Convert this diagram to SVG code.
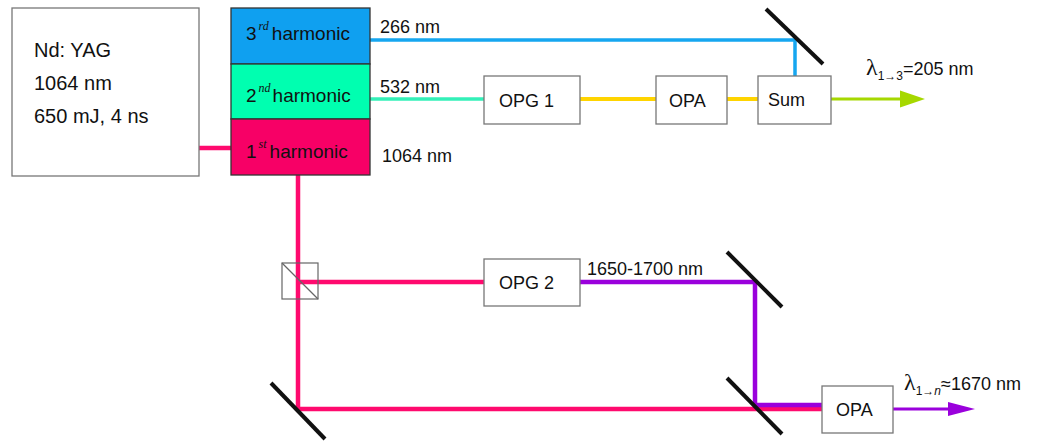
<svg xmlns="http://www.w3.org/2000/svg" width="1037" height="441" viewBox="0 0 1037 441">
<style>
.box{fill:#fff;stroke:#777;stroke-width:1.3}
.hb{stroke:#333;stroke-width:1.3}
.t{font-family:"Liberation Sans",Arial,sans-serif;font-size:18px;fill:#111}
.big{font-size:20px}
.h{font-size:19px}
.sup{font-family:"Liberation Serif","Times New Roman",serif;font-style:italic;font-size:12px}
.sub{font-family:"Liberation Sans",Arial,sans-serif;font-size:12px}
.lam{font-family:"Liberation Serif","Times New Roman",serif;font-size:24px}
.mir{stroke:#111;stroke-width:4;stroke-linecap:butt}
.bl{stroke:#16a6f0;stroke-width:3.5;fill:none}
.tl{stroke:#33f0b8;stroke-width:3.5;fill:none}
.yl{stroke:#ffd400;stroke-width:4;fill:none}
.pk{stroke:#ff0a6e;stroke-width:4.5;fill:none}
.pu{stroke:#9a00dc;fill:none}
</style>
<rect width="1037" height="441" fill="#fff"/>
<g id="connectors">
  <line class="pk" x1="199" y1="148" x2="231" y2="148"/>
  <polyline class="bl" points="370,40 795,40 795,76"/>
  <line class="tl" x1="370" y1="99" x2="484" y2="99"/>
  <line class="yl" x1="580" y1="99" x2="656" y2="99"/>
  <line class="yl" x1="727" y1="99" x2="758" y2="99"/>
  <line stroke="#a6d800" stroke-width="3" x1="831" y1="99" x2="903" y2="99"/>
  <polygon fill="#a6d800" points="900,90.5 925,99 900,107.5"/>
  <polyline class="pk" points="298,175 298,409 822,409"/>
  <line class="pk" x1="298" y1="282" x2="484" y2="282"/>
  <polyline class="pu" stroke-width="4.5" points="580,282 755,282 755,405 822,405"/>
  <line class="pu" stroke-width="3" x1="893" y1="409" x2="950" y2="409"/>
  <polygon fill="#9a00dc" points="948,402 975,409 948,416"/>
</g>
<g id="mirrors">
  <line class="mir" x1="766" y1="9" x2="823" y2="64"/>
  <line class="mir" x1="727" y1="252" x2="782" y2="307"/>
  <line class="mir" x1="271" y1="383" x2="325" y2="439"/>
  <line class="mir" x1="727" y1="378" x2="782" y2="434"/>
</g>
<g id="beamsplitter">
  <rect x="282" y="263" width="36" height="36" fill="none" stroke="#666" stroke-width="1.2"/>
  <line x1="282" y1="263" x2="318" y2="299" stroke="#666" stroke-width="1.2"/>
</g>
<g id="ndyag">
  <rect class="box" x="12" y="8" width="187" height="168"/>
  <text class="t big" x="34" y="57">Nd: YAG</text>
  <text class="t big" x="34" y="90">1064 nm</text>
  <text class="t big" x="34" y="123">650 mJ, 4 ns</text>
</g>
<g id="harm3">
  <rect class="hb" x="231" y="8" width="139" height="56" fill="#0fa0f0"/>
  <text class="t h" x="246" y="40">3<tspan class="sup" dx="2" dy="-10">rd</tspan><tspan dx="3" dy="10">harmonic</tspan></text>
</g>
<g id="harm2">
  <rect class="hb" x="231" y="64" width="139" height="55" fill="#00ffb0"/>
  <text class="t h" x="246" y="102">2<tspan class="sup" dx="2" dy="-10">nd</tspan><tspan dx="2" dy="10">harmonic</tspan></text>
</g>
<g id="harm1">
  <rect class="hb" x="231" y="119" width="139" height="56" fill="#f70066"/>
  <text class="t h" x="246" y="158">1<tspan class="sup" dx="2" dy="-10">st</tspan><tspan dx="3" dy="10">harmonic</tspan></text>
</g>
<g id="labels">
  <text class="t" x="380" y="33">266 nm</text>
  <text class="t" x="380" y="93">532 nm</text>
  <text class="t" x="382" y="162">1064 nm</text>
  <text class="t" x="587" y="275">1650-1700 nm</text>
  <text class="t" x="866" y="75"><tspan class="lam">λ</tspan><tspan class="sub" dy="5">1→3</tspan><tspan dy="-5">=205 nm</tspan></text>
  <text class="t" x="904" y="390"><tspan class="lam">λ</tspan><tspan class="sub" dy="5">1→</tspan><tspan class="sub" font-style="italic" font-family="Liberation Serif,serif">n</tspan><tspan dy="-5">≈1670 nm</tspan></text>
</g>
<g id="opg1">
  <rect class="box" x="484" y="76" width="96" height="48"/>
  <text class="t" x="499" y="107">OPG 1</text>
</g>
<g id="opa1">
  <rect class="box" x="656" y="76" width="71" height="48"/>
  <text class="t" x="669" y="107">OPA</text>
</g>
<g id="sum">
  <rect class="box" x="758" y="76" width="73" height="48"/>
  <text class="t" x="768" y="106">Sum</text>
</g>
<g id="opg2">
  <rect class="box" x="484" y="259" width="96" height="47"/>
  <text class="t" x="499" y="289">OPG 2</text>
</g>
<g id="opa2">
  <rect class="box" x="822" y="386" width="71" height="47"/>
  <text class="t" x="836" y="416">OPA</text>
</g>
</svg>
